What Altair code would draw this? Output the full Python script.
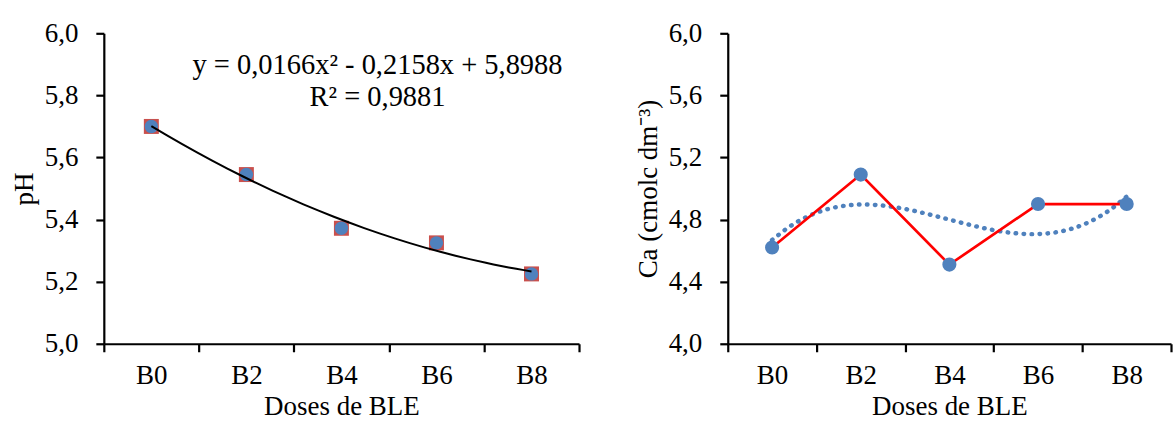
import altair as alt
import pandas as pd

# ---- data ----
doses = ["B0", "B2", "B4", "B6", "B8"]
dose_index = [1, 2, 3, 4, 5]
ph_values = [5.70, 5.545, 5.372, 5.325, 5.225]
ca_values = [4.62, 5.09, 4.51, 4.90, 4.90]
ph_ticks = [5.0, 5.2, 5.4, 5.6, 5.8, 6.0]
ca_ticks = [4.0, 4.4, 4.8, 5.2, 5.6, 6.0]
eq_lines = ["y = 0,0166x² - 0,2158x + 5,8988", "R² = 0,9881"]
eq_x = [3.38, 3.38]
eq_y = [5.897, 5.794]

FONT = "Liberation Serif"
FS = 27
BLUE = "#4F81BD"
RED_SQ = "#C9504D"
LABEL_EXPR = "replace(format(datum.value, '.1f'), '.', ',')"

df_ph = pd.DataFrame({"dose": doses, "idx": dose_index, "val": ph_values})
df_ca = pd.DataFrame({"dose": doses, "idx": dose_index, "val": ca_values})
df_eq = pd.DataFrame({"t": eq_lines, "idx": eq_x, "val": eq_y})


def x_band():
    return alt.X(
        "dose:N",
        sort=doses,
        scale=alt.Scale(type="band", domain=doses, paddingInner=0, paddingOuter=0),
        axis=alt.Axis(
            title="Doses de BLE",
            tickBand="extent",
            labelAngle=0,
            labelPadding=11,
            titlePadding=5,
        ),
    )


def x_quant():
    return alt.X(
        "idx:Q",
        scale=alt.Scale(domain=[0.5, 5.5], nice=False, zero=False),
        axis=None,
    )


def y_enc(domain, ticks, title):
    return alt.Y(
        "val:Q",
        scale=alt.Scale(domain=domain, nice=False, zero=False),
        axis=alt.Axis(
            values=ticks,
            labelExpr=LABEL_EXPR,
            title=title,
            labelPadding=18,
            titlePadding=6,
        ),
    )


# ---- left panel: pH ----
yph = y_enc([5.0, 6.0], ph_ticks, "pH")
base_ph = alt.Chart(df_ph)
sq = base_ph.mark_point(shape="square", filled=True, color=RED_SQ, size=225, opacity=1).encode(
    x=x_band(), y=yph
)
circ = base_ph.mark_circle(color=BLUE, size=180, opacity=1).encode(x=x_band(), y=yph)
trend_ph = (
    base_ph.transform_regression("idx", "val", method="poly", order=2, extent=[1, 5])
    .mark_line(color="black", strokeWidth=2)
    .encode(x=x_quant(), y=yph)
)
eq_text = (
    alt.Chart(df_eq)
    .mark_text(font=FONT, fontSize=28.5, color="black", align="center", baseline="middle")
    .encode(x=x_quant(), y=yph, text="t:N")
)
left = (
    alt.layer(alt.layer(sq, circ), alt.layer(trend_ph, eq_text))
    .resolve_scale(x="independent")
    .properties(width=476, height=311)
)

# ---- right panel: Ca ----
yca = y_enc([4.0, 6.0], ca_ticks, "Ca (cmolc dm⁻³)")
base_ca = alt.Chart(df_ca)
trend_ca = (
    base_ca.transform_regression("idx", "val", method="poly", order=3, extent=[1, 5])
    .mark_line(color=BLUE, strokeWidth=4.5, strokeDash=[0.5, 7.5], strokeCap="round")
    .encode(x=x_quant(), y=yca)
)
line_ca = base_ca.mark_line(color="#FF0000", strokeWidth=2.7).encode(x=x_band(), y=yca)
pts_ca = base_ca.mark_circle(color=BLUE, size=200, opacity=1).encode(x=x_band(), y=yca)
right = (
    alt.layer(trend_ca, alt.layer(line_ca, pts_ca))
    .resolve_scale(x="independent")
    .properties(width=444, height=311)
)

chart = (
    alt.hconcat(left, right, spacing=53)
    .properties(padding={"left": 10, "top": 19, "right": 0, "bottom": 0})
    .configure_view(stroke=None)
    .configure_axis(
        domainColor="black",
        domainWidth=2.2,
        tickColor="black",
        tickWidth=2.2,
        tickSize=8,
        grid=False,
        labelFont=FONT,
        labelFontSize=FS,
        labelColor="black",
        titleFont=FONT,
        titleFontSize=FS,
        titleFontWeight="normal",
        titleColor="black",
    )
)

chart.save("out.html", embed_options={"renderer": "svg", "actions": False})
